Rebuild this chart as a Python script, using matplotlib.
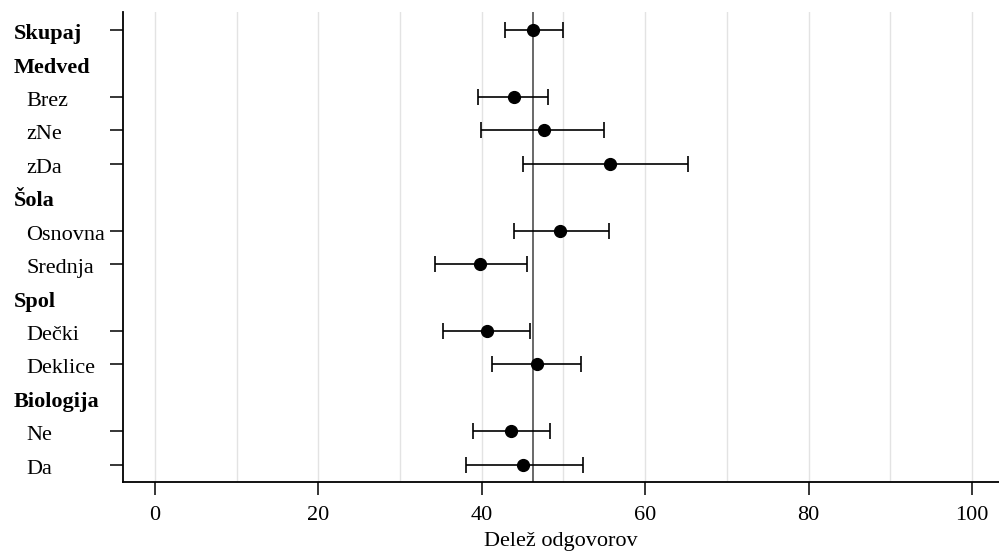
import numpy as np
import matplotlib.pyplot as plt
from matplotlib.transforms import blended_transform_factory

# rows of the forest plot, top to bottom; headers have no estimate
labels = ['Skupaj', 'Medved', 'Brez', 'zNe', 'zDa', 'Šola', 'Osnovna', 'Srednja',
          'Spol', 'Dečki', 'Deklice', 'Biologija', 'Ne', 'Da']
is_header = [True, True, False, False, False, True, False, False,
             True, False, False, True, False, False]
estimate = [46.3, np.nan, 44.0, 47.6, 55.7, np.nan, 49.6, 39.8,
            np.nan, 40.6, 46.8, np.nan, 43.6, 45.1]
ci_low = [42.8, np.nan, 39.6, 39.9, 45.1, np.nan, 44.0, 34.3,
          np.nan, 35.2, 41.2, np.nan, 38.9, 38.1]
ci_high = [49.9, np.nan, 48.1, 55.0, 65.2, np.nan, 55.6, 45.6,
           np.nan, 45.9, 52.2, np.nan, 48.3, 52.4]
overall = 46.3

plt.rcParams['font.family'] = ['Liberation Serif', 'DejaVu Serif']
plt.rcParams['font.size'] = 16

fig = plt.figure(figsize=(9.99, 5.54), dpi=100)
ax = fig.add_axes([123 / 999, 72 / 554, 876 / 999, 470 / 554])

y = np.arange(len(labels))
est = np.array(estimate)
lo = np.array(ci_low)
hi = np.array(ci_high)
ok = ~np.isnan(est)

for g in range(0, 101, 10):
    ax.axvline(g, color='#e3e3e3', lw=1, zorder=0)
ax.axvline(overall, color='#404040', lw=1.1, zorder=1)

ax.errorbar(est[ok], y[ok], xerr=[est[ok] - lo[ok], hi[ok] - est[ok]],
            fmt='o', color='black', ms=8.5, elinewidth=1.2, capsize=5.5,
            capthick=1.2, zorder=3)

ax.set_xlim(-3.9, 103.3)
ax.set_ylim(13.52, -0.54)
ax.set_xticks(range(0, 101, 20))
ax.set_yticks(y[ok])
ax.set_yticklabels([])
ax.tick_params(axis='both', length=9.5, width=1.1, direction='out')
ax.tick_params(axis='x', pad=7.5)
ax.set_xlabel('Delež odgovorov', labelpad=5)

for side in ['top', 'right']:
    ax.spines[side].set_visible(False)
for side in ['left', 'bottom']:
    ax.spines[side].set_linewidth(1.3)

# row labels sit in the left margin, headers bold and less indented
trans = blended_transform_factory(fig.transFigure, ax.transData)
for i, (lab, head) in enumerate(zip(labels, is_header)):
    x0 = 14 / 999 if head else 26 / 999
    ax.text(x0, i + 0.27, lab, transform=trans, ha='left', va='baseline',
            fontweight='bold' if head else 'normal', clip_on=False)

fig.savefig('out.png', dpi=100)
